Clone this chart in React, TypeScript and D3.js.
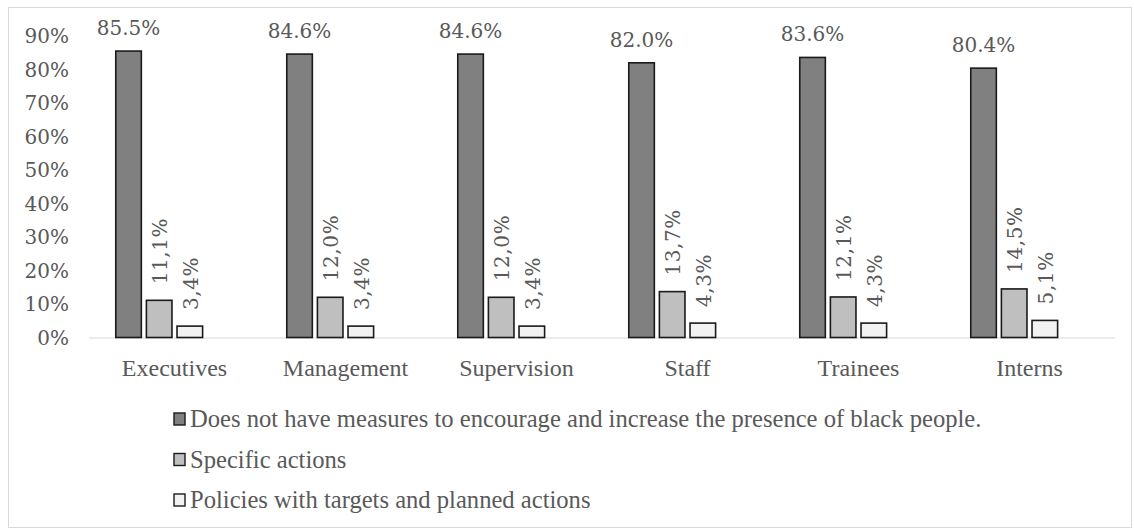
import React from "react";
import * as d3 from "d3";

// Share of companies by hierarchical level and type of measure
const categories = ["Executives", "Management", "Supervision", "Staff", "Trainees", "Interns"];
const seriesNames = [
  "Does not have measures to encourage and increase the presence of black people.",
  "Specific actions",
  "Policies with targets and planned actions",
];
const noMeasures = [85.5, 84.6, 84.6, 82.0, 83.6, 80.4];
const specificActions = [11.1, 12.0, 12.0, 13.7, 12.1, 14.5];
const policiesTargets = [3.4, 3.4, 3.4, 4.3, 4.3, 5.1];
const yTicks = [0, 10, 20, 30, 40, 50, 60, 70, 80, 90];

const seriesValues = [noMeasures, specificActions, policiesTargets];
const fills = ["#808080", "#bfbfbf", "#f2f2f2"];
const decimalSep = [".", ",", ","];

const W = 1134;
const H = 529;
const plot = { left: 89, right: 1115, top: 36, bottom: 337.5 };
const textColor = "#595959";
const serif = "'DejaVu Serif', serif";
const times = "'Liberation Serif', 'Times New Roman', serif";

export default function App() {
  const x0 = d3.scaleBand<string>().domain(categories).range([plot.left, plot.right]).padding(0);
  const y = d3.scaleLinear().domain([0, 90]).range([plot.bottom, plot.top]);
  const bw = x0.bandwidth();
  // four slots per category; the last slot stays empty
  const groupW = bw * 0.687;
  const x1 = d3
    .scaleBand<number>()
    .domain([0, 1, 2, 3])
    .range([(bw - groupW) / 2, (bw + groupW) / 2])
    .paddingInner(0.165);
  const barW = x1.bandwidth();

  const fmt = (v: number, s: number) => v.toFixed(1).replace(".", decimalSep[s]) + "%";

  return (
    <svg
      width={W}
      height={H}
      style={{ position: "absolute", left: 0, top: 0, background: "#fff" }}
    >
      <rect x={8.5} y={7.5} width={1123} height={520} fill="#fff" stroke="#d9d9d9" strokeWidth={1} />

      {/* y axis labels */}
      {yTicks.map((t) => (
        <text
          key={t}
          x={69}
          y={y(t)}
          dy="0.36em"
          textAnchor="end"
          fontFamily={serif}
          fontSize={20}
          fill={textColor}
        >
          {t}%
        </text>
      ))}

      {/* baseline */}
      <line x1={plot.left} x2={plot.right} y1={plot.bottom + 0.5} y2={plot.bottom + 0.5} stroke="#d9d9d9" strokeWidth={1.2} />

      {/* bars */}
      {categories.map((c, i) => (
        <g key={c} transform={`translate(${x0(c)},0)`}>
          {seriesValues.map((vals, s) => {
            const v = vals[i];
            const bx = x1(s)!;
            const top = y(v);
            return (
              <g key={s}>
                <rect
                  x={bx}
                  y={top}
                  width={barW}
                  height={plot.bottom - top}
                  fill={fills[s]}
                  stroke="#1a1a1a"
                  strokeWidth={1.6}
                />
                {s === 0 ? (
                  <text
                    x={bx + barW / 2}
                    y={top - 16}
                    textAnchor="middle"
                    fontFamily={serif}
                    fontSize={20}
                    fill={textColor}
                  >
                    {fmt(v, s)}
                  </text>
                ) : (
                  <text
                    transform={`translate(${bx + barW / 2 + 1},${top - 16}) rotate(-90)`}
                    dy="0.36em"
                    textAnchor="start"
                    fontFamily={serif}
                    fontSize={20}
                    letterSpacing={0.6}
                    fill={textColor}
                  >
                    {fmt(v, s)}
                  </text>
                )}
              </g>
            );
          })}
          <text
            x={bw / 2}
            y={376}
            textAnchor="middle"
            fontFamily={times}
            fontSize={24}
            fill={textColor}
          >
            {c}
          </text>
        </g>
      ))}

      {/* legend */}
      {seriesNames.map((name, s) => {
        const base = 427 + s * 40.5;
        return (
          <g key={name}>
            <rect x={174} y={base - 14} width={11} height={12} fill={fills[s]} stroke="#1a1a1a" strokeWidth={1.4} />
            <text x={190} y={base} fontFamily={times} fontSize={24.6} fill={textColor}>
              {name}
            </text>
          </g>
        );
      })}
    </svg>
  );
}
